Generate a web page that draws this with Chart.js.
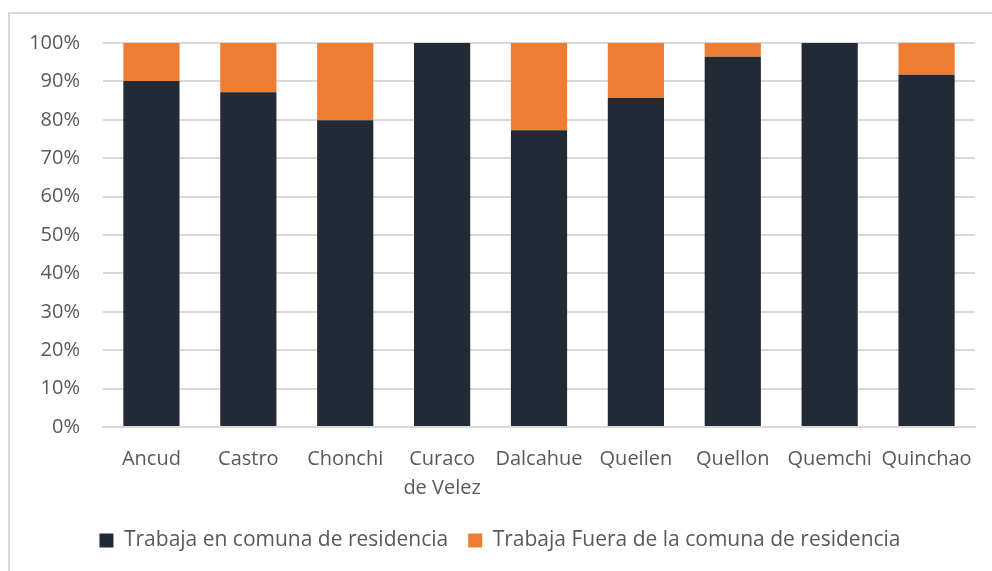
<!DOCTYPE html>
<html>
<head>
<meta charset="utf-8">
<script src="https://cdn.jsdelivr.net/npm/chart.js@4.4.1/dist/chart.umd.min.js"></script>
<style>
  html, body { margin: 0; padding: 0; background: #fff; }
  #wrap { position: relative; width: 992px; height: 571px; overflow: hidden; }
  #frame { position: absolute; left: 8px; top: 12px; width: 1000px; height: 600px;
           border: 2px solid #d9d9d9; box-sizing: border-box; }
  #chart { position: absolute; left: 0; top: 0; }
</style>
</head>
<body>
<div id="wrap">
  <div id="frame"></div>
  <canvas id="chart" width="992" height="571"></canvas>
</div>
<script>
// comunas de Chiloé
const comunas = ["Ancud", "Castro", "Chonchi", ["Curaco", "de Velez"], "Dalcahue", "Queilen", "Quellon", "Quemchi", "Quinchao"];
// % que trabaja en su comuna
const trabajaEnComuna = [90.1, 87.2, 79.9, 100, 77.3, 85.7, 96.4, 100, 91.7];
// % que trabaja fuera
const trabajaFuera = [9.9, 12.8, 20.1, 0, 22.7, 14.3, 3.6, 0, 8.3];
const yTicks = [0, 10, 20, 30, 40, 50, 60, 70, 80, 90, 100];

const FONT = "'Open Sans', 'Noto Sans', sans-serif";
const TEXT = "#595959";

new Chart(document.getElementById("chart"), {
  type: "bar",
  data: {
    labels: comunas,
    datasets: [
      { label: "Trabaja en comuna de residencia", data: trabajaEnComuna,
        backgroundColor: "#222a35", barPercentage: 0.58, categoryPercentage: 1 },
      { label: "Trabaja Fuera de la comuna de residencia", data: trabajaFuera,
        backgroundColor: "#ed7d31", barPercentage: 0.58, categoryPercentage: 1 }
    ]
  },
  options: {
    responsive: false, animation: false,
    layout: { padding: { top: 43, left: 25, right: 17, bottom: 10 } },
    plugins: {
      tooltip: { enabled: false },
      legend: {
        position: "bottom",
        labels: {
          color: TEXT, font: { family: FONT, size: 21 },
          boxWidth: 14, boxHeight: 14, padding: 20
        }
      }
    },
    scales: {
      x: {
        stacked: true,
        grid: { display: false },
        border: { display: true, color: "#d9d9d9", width: 2 },
        ticks: { color: TEXT, font: { family: FONT, size: 20, lineHeight: 1.45 },
                 maxRotation: 0, autoSkip: false, padding: 10 },
        afterFit: s => { s.height = 83; }
      },
      y: {
        stacked: true, min: 0, max: 100,
        afterBuildTicks: s => { s.ticks = yTicks.map(v => ({ value: v })); },
        grid: { color: "#d9d9d9", lineWidth: 2, drawTicks: false },
        border: { display: false },
        ticks: { color: TEXT, font: { family: FONT, size: 20 }, padding: 23,
                 callback: v => v + "%" },
        afterFit: s => { s.width = 78; }
      }
    }
  }
});
</script>
</body>
</html>
